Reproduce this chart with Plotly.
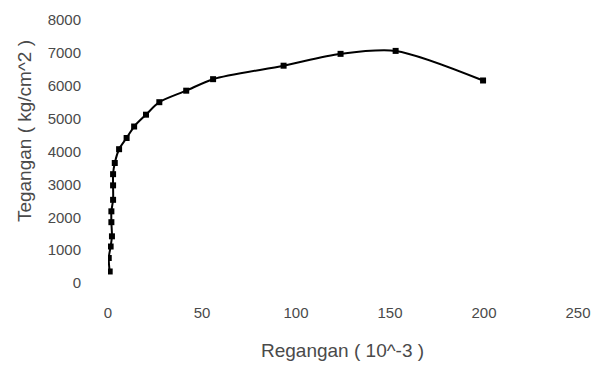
import plotly.graph_objects as go

# Stress-strain readings
regangan = [0.9, 0.4, 1.4, 2.1, 1.8, 1.8, 2.7, 2.7, 2.7, 3.6, 5.9, 9.9, 13.9, 20.2, 27.3,
            41.6, 55.9, 93.4, 123.7, 153.0, 199.5]
tegangan = [350, 760, 1110, 1420, 1850, 2180, 2530, 2970, 3310, 3650, 4070, 4410, 4760,
            5120, 5500, 5850, 6200, 6610, 6970, 7060, 6160]

x_ticks = [0, 50, 100, 150, 200, 250]
y_ticks = [0, 1000, 2000, 3000, 4000, 5000, 6000, 7000, 8000]

font_family = "Liberation Sans, Arial, sans-serif"
text_color = "#4a4a4a"

fig = go.Figure(
    go.Scatter(
        x=regangan,
        y=tegangan,
        mode="lines+markers",
        line=dict(color="black", width=2, shape="spline", smoothing=0.8),
        marker=dict(symbol="square", size=6, color="black"),
        showlegend=False,
    )
)

fig.update_layout(
    width=602,
    height=370,
    margin=dict(l=108, r=24, t=20, b=87),
    paper_bgcolor="white",
    plot_bgcolor="white",
    font=dict(family=font_family, size=15, color=text_color),
)

fig.update_xaxes(
    range=[0, 250],
    tickvals=x_ticks,
    showgrid=False,
    zeroline=False,
    showline=False,
    ticks="",
    ticklabelstandoff=19,
)
fig.update_yaxes(
    range=[0, 8000],
    tickvals=y_ticks,
    showgrid=False,
    zeroline=False,
    showline=False,
    ticks="",
    ticklabelstandoff=26,
)

fig.add_annotation(
    text="Regangan ( 10^-3 )",
    xref="paper", yref="paper",
    x=0.4985, y=-0.257,
    xanchor="center", yanchor="middle",
    showarrow=False,
    font=dict(family=font_family, size=19, color=text_color),
)
fig.add_annotation(
    text="Tegangan ( kg/cm^2 )",
    xref="paper", yref="paper",
    x=-0.179, y=0.577,
    xanchor="center", yanchor="middle",
    textangle=-90,
    showarrow=False,
    font=dict(family=font_family, size=19, color=text_color),
)

fig.write_html("out.html")
